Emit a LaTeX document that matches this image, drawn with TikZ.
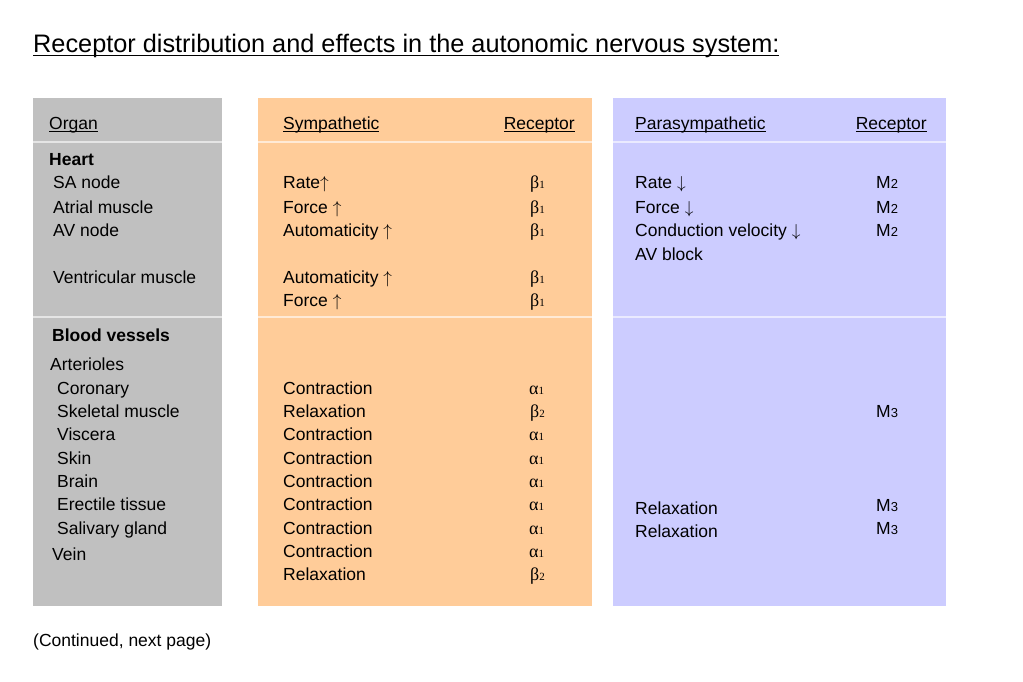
\documentclass[tikz,border=0pt]{standalone}
\usepackage{fontspec}
\setmainfont{Liberation Sans}
\newfontfamily\grk{Liberation Serif}
\definecolor{gfill}{HTML}{C0C0C0}
\definecolor{ofill}{HTML}{FFCC99}
\definecolor{bfill}{HTML}{CCCCFF}
\newcommand\myul[1]{\setbox0\hbox{#1}\rlap{\rule[-2.3pt]{\wd0}{1.1pt}}\box0}
\newcommand\rc[2]{{\grk #1\fontsize{11}{12}\selectfont #2}}
\newcommand\mr[1]{M{\fontsize{13}{14}\selectfont #1}}
\newcommand\upa{\ensuremath{\uparrow}}
\newcommand\dna{\ensuremath{\downarrow}}
\tikzset{
  txt/.style={anchor=base west, inner sep=0pt, font=\fontsize{17.5}{21}\selectfont},
  txtr/.style={anchor=base east, inner sep=0pt, font=\fontsize{17.5}{21}\selectfont},
  hd/.style={txt, font=\fontsize{17.5}{21}\selectfont\bfseries},
  rcp/.style={anchor=base west, inner sep=0pt, font=\fontsize{18}{21}\selectfont},
  sepline/.style={draw=white, draw opacity=0.6, line width=1.5pt}
}
\begin{document}
\begin{tikzpicture}[x=1pt,y=-1pt]
\useasboundingbox[fill=white] (0,0) rectangle (1023,682);
% title
\node[anchor=base west, inner sep=0pt, font=\fontsize{25.3}{30}\selectfont] (title) at (33,53)
  {\setbox0\hbox{Receptor distribution and effects in the autonomic nervous system:}\rlap{\rule[-3.2pt]{\wd0}{1.5pt}}\box0};
% column panels
\fill[gfill] (33,98) rectangle (222,606);
\fill[ofill] (258,98) rectangle (592,606);
\fill[bfill] (613,98) rectangle (946,606);
\foreach \yy in {142,317}{
  \draw[sepline] (33,\yy) -- (222,\yy);
  \draw[sepline] (258,\yy) -- (592,\yy);
  \draw[sepline] (613,\yy) -- (946,\yy);
}
% headers
\node[txt] (hOrgan) at (49,130) {\myul{Organ}};
\node[txt] (hSym) at (283,130) {\myul{Sympathetic}};
\node[txtr] (hSymR) at (575,130) {\myul{Receptor}};
\node[txt] (hPar) at (635,130) {\myul{Parasympathetic}};
\node[txtr] (hParR) at (927,130) {\myul{Receptor}};
% organ column
\node[hd] (heart) at (49,165) {Heart};
\node[txt] (sa) at (53,189) {SA node};
\node[txt] (atr) at (53,213) {Atrial muscle};
\node[txt] (av) at (53,236) {AV node};
\node[txt] (ven) at (53,283) {Ventricular muscle};
\node[hd] (bv) at (52,341) {Blood vessels};
\node[txt] (art) at (50,370) {Arterioles};
\node[txt] (cor) at (57,394) {Coronary};
\node[txt] (skm) at (57,417) {Skeletal muscle};
\node[txt] (vis) at (57,440) {Viscera};
\node[txt] (skin) at (57,464) {Skin};
\node[txt] (brain) at (57,487) {Brain};
\node[txt] (ere) at (57,510) {Erectile tissue};
\node[txt] (sal) at (57,534) {Salivary gland};
\node[txt] (vein) at (52,560) {Vein};
% sympathetic column
\node[txt] (s1) at (283,189) {Rate\upa};
\node[txt] (s2) at (283,213) {Force \upa};
\node[txt] (s3) at (283,236) {Automaticity \upa};
\node[txt] (s4) at (283,283) {Automaticity \upa};
\node[txt] (s5) at (283,306) {Force \upa};
\node[txt] (s6) at (283,394) {Contraction};
\node[txt] (s7) at (283,417) {Relaxation};
\node[txt] (s8) at (283,440) {Contraction};
\node[txt] (s9) at (283,464) {Contraction};
\node[txt] (s10) at (283,487) {Contraction};
\node[txt] (s11) at (283,510) {Contraction};
\node[txt] (s12) at (283,534) {Contraction};
\node[txt] (s13) at (283,557) {Contraction};
\node[txt] (s14) at (283,580) {Relaxation};
% sympathetic receptors
\node[rcp] (r1) at (530,189) {\rc{β}{1}};
\node[rcp] (r2) at (530,213) {\rc{β}{1}};
\node[rcp] (r3) at (530,236) {\rc{β}{1}};
\node[rcp] (r4) at (530,283) {\rc{β}{1}};
\node[rcp] (r5) at (530,306) {\rc{β}{1}};
\node[rcp] (r6) at (529,394) {\rc{α}{1}};
\node[rcp] (r7) at (530,417) {\rc{β}{2}};
\node[rcp] (r8) at (529,440) {\rc{α}{1}};
\node[rcp] (r9) at (529,464) {\rc{α}{1}};
\node[rcp] (r10) at (529,487) {\rc{α}{1}};
\node[rcp] (r11) at (529,510) {\rc{α}{1}};
\node[rcp] (r12) at (529,534) {\rc{α}{1}};
\node[rcp] (r13) at (529,557) {\rc{α}{1}};
\node[rcp] (r14) at (530,580) {\rc{β}{2}};
% parasympathetic column
\node[txt] (p1) at (635,189) {Rate \dna};
\node[txt] (p2) at (635,213) {Force \dna};
\node[txt] (p3) at (635,236) {Conduction velocity \dna};
\node[txt] (p4) at (635,260) {AV block};
\node[txt] (p5) at (635,514) {Relaxation};
\node[txt] (p6) at (635,537) {Relaxation};
% parasympathetic receptors
\node[txt] (m1) at (876,189) {\mr{2}};
\node[txt] (m2) at (876,213) {\mr{2}};
\node[txt] (m3) at (876,236) {\mr{2}};
\node[txt] (m4) at (876,417) {\mr{3}};
\node[txt] (m5) at (876,511) {\mr{3}};
\node[txt] (m6) at (876,534) {\mr{3}};
% footer
\node[txt] (cont) at (33,646) {(Continued, next page)};
\end{tikzpicture}
\end{document}
